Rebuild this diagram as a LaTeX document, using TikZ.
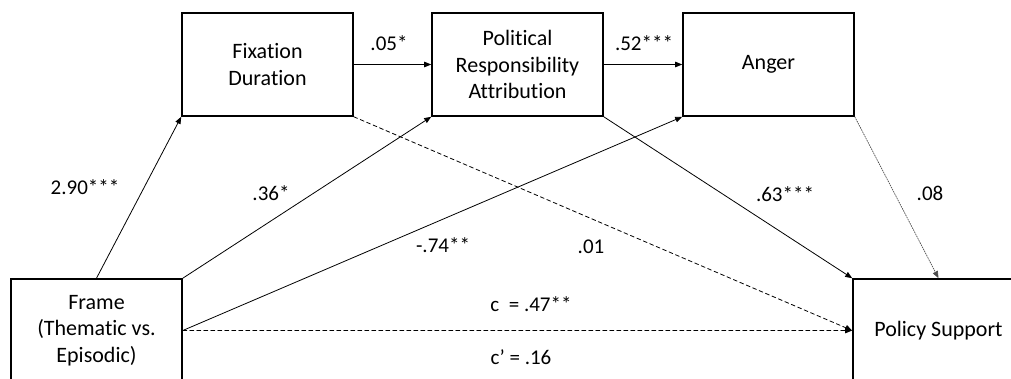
\documentclass[tikz,border=0pt]{standalone}
\usepackage{fontspec}
\setmainfont{Carlito}[Ligatures=NoCommon]
\usepackage{tikz}
\usetikzlibrary{arrows.meta}
\usepackage{xcolor}

\begin{document}
\begin{tikzpicture}[x=1pt,y=-1pt,>={Triangle[length=7pt,width=5.5pt]},line cap=round,
  font=\fontsize{21}{26}\selectfont,
  varbox/.style={draw,line width=1.6pt,minimum width=171pt,minimum height=103pt,align=center,inner sep=0pt,
    font=\fontsize{22}{26.5}\selectfont},
  path/.style={->,line width=0.8pt},
  nspath/.style={->,line width=0.8pt,dash pattern=on 4pt off 3pt},
  weakpath/.style={->,line width=0.7pt,gray!60!black,dash pattern=on 1.2pt off 1.2pt},
  coef/.style={inner sep=0pt}]
\useasboundingbox (0,0) rectangle (1011,379);
\clip (0,0) rectangle (1011,379);
\node[varbox] (fix) at (267.5,64.5) {Fixation\\Duration};
\node[varbox] (pra) at (517.5,64.5) {Political\\Responsibility\\Attribution};
\node[varbox] (ang) at (768.5,64.5) {Anger};
\node[varbox] (frm) at (96.5,330.5) {Frame\\(Thematic vs.\\Episodic)};
\node[varbox] (pol) at (938.5,330.5) {Policy Support};
\draw[path] (frm.north) -- (fix.south west);
\draw[path] (frm.north east) -- (pra.south west);
\draw[path] (frm.east) -- (ang.south west);
\draw[nspath] (frm.east) -- (pol.west);
\draw[path] (fix.east) -- (pra.west);
\draw[path] (pra.east) -- (ang.west);
\draw[nspath] (fix.south east) -- (pol.west);
\draw[path] (pra.south east) -- (pol.north west);
\draw[weakpath] (ang.south east) -- (pol.north);
\node[coef] (a1) at (85,187) {2.90***};
\node[coef] (a2) at (271,193) {.36*};
\node[coef] (a3) at (443,245) {-.74**};
\node[coef] (d1) at (389,43) {.05*};
\node[coef] (d2) at (644,43) {.52***};
\node[coef] (b1) at (591,247) {.01};
\node[coef] (b2) at (785,194) {.63***};
\node[coef] (b3) at (930,193) {.08};
\node[coef] (tot) at (531,304) {c\ \ = .47**};
\node[coef] (dir) at (521,357) {c’ = .16};
\end{tikzpicture}
\end{document}
